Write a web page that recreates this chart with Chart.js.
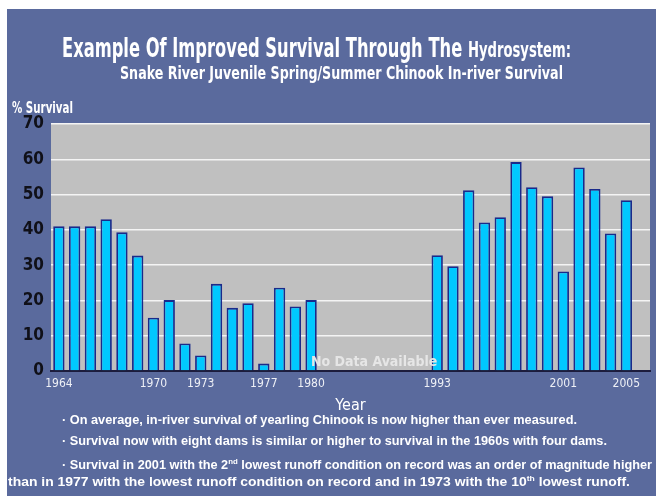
<!DOCTYPE html>
<html>
<head>
<meta charset="utf-8">
<script src="https://cdn.jsdelivr.net/npm/chart.js@4.4.1/dist/chart.umd.min.js"></script>
<style>
  html, body { margin: 0; padding: 0; background: #ffffff; width: 656px; height: 496px; overflow: hidden; }
  #bg { position: absolute; left: 7px; top: 9px; width: 649px; height: 487px; background: #5a6a9d; }
  #c { position: absolute; left: 0; top: 0; }
  .t { position: absolute; color: #ffffff; white-space: nowrap; transform-origin: 0 50%; line-height: 1; }
  .narrow { font-family: 'Liberation Sans Narrow', 'Arial Narrow', 'DejaVu Sans Condensed', sans-serif; }
  .wide { font-family: 'Liberation Sans', Arial, sans-serif; font-weight: bold; }
</style>
</head>
<body>
<div id="bg"></div>
<canvas id="c" width="656" height="496"></canvas>
<div class="t narrow" data-w="509" style="left:62px; top:35px; font-size:26px; font-weight:bold;">Example Of Improved Survival Through The <span style="font-size:21px;">Hydrosystem:</span></div>
<div class="t narrow" data-w="443" style="left:120px; top:65px; font-size:17px; font-weight:bold;">Snake River Juvenile Spring/Summer Chinook In-river Survival</div>
<div class="t narrow" data-w="61" style="left:12px; top:101px; font-size:15px; font-weight:bold;">% Survival</div>
<div class="t wide" data-w="515" style="left:62px; top:413px; font-size:13px;">· On average, in-river survival of yearling Chinook is now higher than ever measured.</div>
<div class="t wide" data-w="545" style="left:62px; top:434px; font-size:13px;">· Survival now with eight dams is similar or higher to survival in the 1960s with four dams.</div>
<div class="t wide" data-w="590" style="left:62px; top:458px; font-size:13px;">· Survival in 2001 with the 2<sup style="font-size:8px;">nd</sup> lowest runoff condition on record was an order of magnitude higher</div>
<div class="t wide" data-w="622" style="left:8px; top:475px; font-size:13px;">than in 1977 with the lowest runoff condition on record and in 1973 with the 10<sup style="font-size:8px;">th</sup> lowest runoff.</div>
<script>
// ---- data ----
const yearLabels = [
  '1964','1965','1966','1967','1968','1969','1970','1971','1972','1973',
  '1974','1975','1976','1977','1978','1979','1980',
  '','','','','','','',
  '1993','1994','1995','1996','1997','1998','1999','2000','2001','2002',
  '2003','2004','2005',
  ''
];
const survivalPct = [
  41, 41, 41, 43, 39.3, 32.7, 15.1, 20.1, 7.8, 4.4,
  24.7, 17.9, 19.2, 2.1, 23.6, 18.3, 20.1,
  null, null, null, null, null, null, null,
  32.8, 29.7, 51.2, 42.1, 43.6, 59.2, 52.1, 49.5, 28.2, 57.7,
  51.6, 39.0, 48.4,
  null
];
const shownYearTicks = ['1964','1970','1973','1977','1980','1993','2001','2005'];
const yTickValues = [0, 10, 20, 30, 40, 50, 60, 70];
const gapNote = 'No Data Available';
const xTitle = 'Year';

// ---- fit text widths ----
document.querySelectorAll('.t').forEach(el => {
  const target = parseFloat(el.dataset.w);
  const w = el.getBoundingClientRect().width;
  if (w > 0) el.style.transform = 'scaleX(' + (target / w) + ')';
});

const NARROW = "'Liberation Sans Narrow', 'Arial Narrow', 'DejaVu Sans Condensed', sans-serif";

const plotBg = {
  id: 'plotBg',
  beforeDraw(chart) {
    const a = chart.chartArea, ctx = chart.ctx;
    ctx.save();
    ctx.fillStyle = '#c0c0c0';
    ctx.fillRect(a.left, a.top, a.right - a.left, a.bottom - a.top);
    ctx.restore();
  }
};

const gapLabel = {
  id: 'gapLabel',
  afterDatasetsDraw(chart) {
    const xs = chart.scales.x, a = chart.chartArea, ctx = chart.ctx;
    const first = yearLabels.indexOf('1980') + 1;
    const last = yearLabels.indexOf('1993') - 1;
    const cx = (xs.getPixelForValue(first) + xs.getPixelForValue(last)) / 2;
    ctx.save();
    ctx.font = 'bold 14px ' + NARROW;
    ctx.fillStyle = '#e6e6e6';
    ctx.textAlign = 'center';
    ctx.textBaseline = 'middle';
    ctx.fillText(gapNote, cx, a.bottom - 9);
    ctx.restore();
  }
};

new Chart(document.getElementById('c'), {
  type: 'bar',
  data: {
    labels: yearLabels,
    datasets: [{
      data: survivalPct,
      backgroundColor: '#00c8ff',
      borderColor: '#1a2a8a',
      borderWidth: 1.8,
      categoryPercentage: 1,
      barPercentage: 0.72
    }]
  },
  options: {
    responsive: false,
    animation: false,
    devicePixelRatio: 1,
    layout: { padding: { left: 0, right: 6, top: 124, bottom: 81 } },
    plugins: { legend: { display: false }, tooltip: { enabled: false } },
    scales: {
      x: {
        type: 'category',
        offset: true,
        grid: { display: false, drawTicks: false },
        border: { display: true, color: '#1c1c3c', width: 2 },
        ticks: {
          autoSkip: false, maxRotation: 0, minRotation: 0, padding: 6,
          color: '#eef0f6',
          font: { family: NARROW, size: 12 },
          callback: function (v, i) {
            const l = yearLabels[i];
            return shownYearTicks.includes(l) ? l : '';
          }
        },
        title: {
          display: true, text: xTitle, color: '#ffffff',
          font: { family: NARROW, size: 16 },
          padding: { top: -2, bottom: 0 }
        },
        afterFit(scale) { scale.height = 44; }
      },
      y: {
        min: 0, max: 70,
        afterBuildTicks(scale) { scale.ticks = yTickValues.map(v => ({ value: v })); },
        grid: { color: '#f4f4f4', lineWidth: 1.5, drawTicks: false },
        border: { display: false },
        ticks: {
          padding: 7,
          color: '#101018',
          font: { family: NARROW, size: 17, weight: 'bold' }
        },
        afterFit(scale) { scale.width = 51; }
      }
    }
  },
  plugins: [plotBg, gapLabel]
});
</script>
</body>
</html>
